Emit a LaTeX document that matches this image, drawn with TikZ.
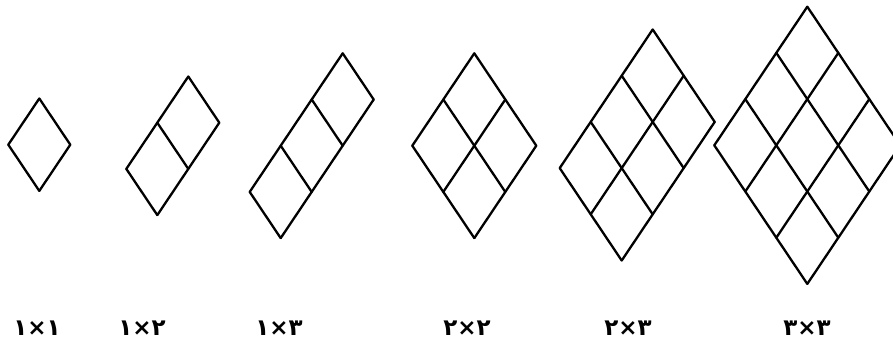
\documentclass[tikz,border=0pt]{standalone}
\usepackage{fontspec}
\newfontfamily\arabicfont[Script=Arabic]{DejaVu Sans}
\newcommand\rhgrid[4]{%
  \foreach \i in {0,...,#4}{\draw[gridline] ({#1-31*\i},{#2+46.2*\i}) -- ++({31*#3},{46.2*#3});}
  \foreach \j in {0,...,#3}{\draw[gridline] ({#1+31*\j},{#2+46.2*\j}) -- ++({-31*#4},{46.2*#4});}
}
\begin{document}
\begin{tikzpicture}[x=1pt,y=-1pt,
  gridline/.style={line width=2.3pt,line cap=round,line join=miter},
  lbl/.style={font=\arabicfont\bfseries\fontsize{23}{26}\selectfont,inner sep=0pt,anchor=center}]
\useasboundingbox (0,0) rectangle (893,346);
\rhgrid{39.3}{98.5}{1}{1}
\rhgrid{188.3}{76.5}{1}{2}
\rhgrid{342.7}{53.3}{1}{3}
\rhgrid{474.3}{53.3}{2}{2}
\rhgrid{652.7}{29.5}{2}{3}
\rhgrid{807.3}{6.7}{3}{3}
\node[lbl] (l1) at (37,328) {۱×۱};
\node[lbl] (l2) at (142,328) {۲×۱};
\node[lbl] (l3) at (279,328) {۳×۱};
\node[lbl] (l4) at (467,328) {۲×۲};
\node[lbl] (l5) at (628,328) {۳×۲};
\node[lbl] (l6) at (807,328) {۳×۳};
\end{tikzpicture}
\end{document}
